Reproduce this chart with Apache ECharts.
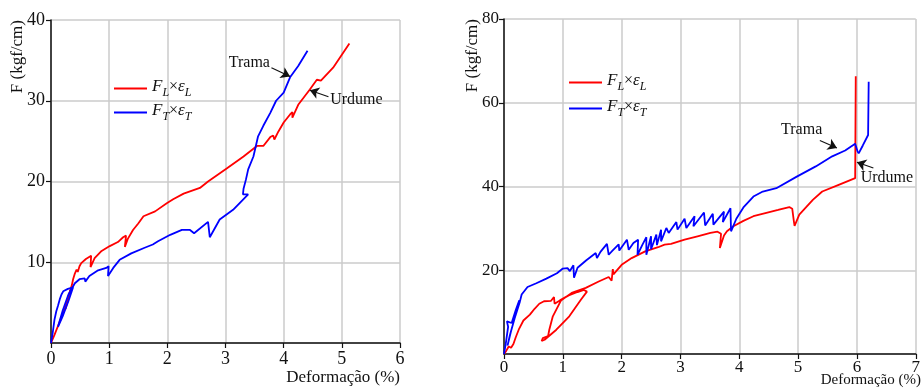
<!DOCTYPE html>
<html>
<head>
<meta charset="utf-8">
<script src="https://cdn.jsdelivr.net/npm/echarts@6/dist/echarts.min.js"></script>
<style>
html,body{margin:0;padding:0;background:#fff;}
#c{width:923px;height:388px;}
</style>
</head>
<body>
<div id="c"></div>
<script>
// ---- Left chart data: [deformation %, F kgf/cm]
const leftFL = [[0,0],[0.06,1.0],[0.12,2.1],[0.18,3.2],[0.23,4.1],[0.29,5.4],[0.33,6.5],[0.3,5.6],[0.25,4.2],[0.3,5.8],[0.36,7.2],[0.38,7.9],[0.41,8.6],[0.44,9.1],[0.46,8.8],[0.49,9.5],[0.52,9.9],[0.6,10.4],[0.69,10.8],[0.68,9.4],[0.75,10.5],[0.87,11.4],[1.01,12.0],[1.15,12.5],[1.24,13.1],[1.29,13.3],[1.27,11.9],[1.32,12.9],[1.41,14.0],[1.5,14.8],[1.59,15.7],[1.79,16.3],[1.99,17.3],[2.1,17.8],[2.28,18.5],[2.56,19.2],[2.7,20.0],[3.02,21.6],[3.31,23.1],[3.54,24.4],[3.65,24.4],[3.77,25.5],[3.82,25.7],[3.84,25.2],[3.91,26.2],[4.0,27.3],[4.11,28.3],[4.15,28.6],[4.15,27.9],[4.25,29.5],[4.45,31.4],[4.57,32.6],[4.64,32.5],[4.85,34.1],[5.13,37.1]];
const leftFT = [[0,0],[0.03,1.3],[0.06,2.9],[0.09,3.9],[0.12,4.6],[0.15,5.4],[0.18,6.0],[0.21,6.4],[0.29,6.7],[0.38,6.9],[0.3,5.2],[0.2,3.3],[0.12,2.0],[0.2,4.0],[0.3,6.0],[0.41,7.4],[0.49,7.9],[0.58,8.0],[0.59,7.6],[0.66,8.3],[0.81,9.0],[0.95,9.3],[0.99,9.5],[0.98,8.3],[1.07,9.3],[1.18,10.3],[1.38,11.1],[1.61,11.8],[1.75,12.2],[1.84,12.6],[2.05,13.4],[2.25,14.0],[2.39,14.0],[2.46,13.6],[2.7,15.0],[2.73,13.1],[2.9,15.3],[3.13,16.5],[3.39,18.4],[3.3,18.4],[3.31,19.1],[3.35,20.2],[3.39,21.5],[3.48,23.1],[3.56,25.6],[3.65,26.9],[3.77,28.5],[3.87,30.0],[4.0,31.0],[4.11,32.9],[4.25,34.3],[4.41,36.2]];
// ---- Right chart data
const rightFL = [[0,0],[0.04,0.8],[0.08,1.8],[0.12,1.5],[0.16,2.4],[0.2,4.0],[0.25,5.8],[0.33,8.0],[0.44,9.4],[0.52,10.8],[0.6,12.0],[0.68,12.6],[0.8,12.7],[0.85,13.6],[0.86,12.0],[0.95,12.8],[1.1,14.0],[1.25,14.8],[1.36,15.3],[1.41,14.9],[1.31,13.0],[1.11,9.0],[0.89,5.8],[0.69,3.4],[0.64,3.1],[0.66,3.8],[0.75,4.3],[0.77,5.8],[0.83,9.0],[0.97,12.8],[1.15,14.6],[1.39,15.8],[1.61,17.3],[1.78,18.4],[1.83,17.5],[1.85,20.3],[1.86,19.0],[2.0,21.3],[2.17,22.9],[2.4,24.5],[2.62,25.5],[2.73,26.1],[2.84,26.3],[3.07,27.3],[3.29,28.1],[3.51,28.9],[3.63,29.2],[3.69,28.7],[3.67,25.3],[3.74,28.3],[3.79,29.3],[3.9,30.5],[4.07,31.8],[4.24,32.9],[4.46,33.7],[4.66,34.4],[4.85,35.1],[4.9,34.7],[4.93,31.5],[4.94,30.6],[5.02,33.3],[5.25,36.8],[5.41,38.8],[5.69,40.4],[5.97,42.0],[5.98,66.3]];
const rightFT = [[0,0],[0.03,2.5],[0.07,6.5],[0.05,7.8],[0.13,7.4],[0.2,10.5],[0.26,12.8],[0.2,9.5],[0.12,5.5],[0.06,2.0],[0.1,4.5],[0.18,8.5],[0.27,12.5],[0.3,14.2],[0.4,16.0],[0.55,16.9],[0.72,18.0],[0.9,19.3],[1.0,20.4],[1.08,20.5],[1.12,19.8],[1.18,21.2],[1.19,18.2],[1.25,20.6],[1.4,22.4],[1.56,24.1],[1.58,22.9],[1.64,24.4],[1.75,26.3],[1.78,23.7],[1.84,24.6],[1.95,26.2],[1.96,24.7],[2.09,27.3],[2.12,24.9],[2.2,26.5],[2.28,27.3],[2.27,23.7],[2.35,26.0],[2.42,27.9],[2.42,23.7],[2.5,28.1],[2.5,25.0],[2.59,28.5],[2.6,26.0],[2.67,29.7],[2.67,26.9],[2.76,30.1],[2.8,28.9],[2.93,31.5],[2.95,29.7],[3.07,32.3],[3.1,30.1],[3.24,32.9],[3.22,30.5],[3.4,33.8],[3.42,30.7],[3.55,33.5],[3.56,30.9],[3.74,34.0],[3.72,31.5],[3.85,34.8],[3.86,29.3],[3.95,32.3],[4.07,35.0],[4.24,37.6],[4.4,38.8],[4.63,39.6],[4.97,42.3],[5.3,44.8],[5.58,47.2],[5.8,48.6],[5.97,50.2],[6.01,48.4],[6.03,47.9],[6.1,49.8],[6.19,52.3],[6.2,65.0]];
// ---- Axis ranges / ticks
const leftX = {min:0, max:6, interval:1};
const leftY = {min:0, max:40, interval:10};
const rightX = {min:0, max:7, interval:1};
const rightY = {min:0, max:80, interval:20};
// ---- Annotations (text anchor and arrow in data units)
const leftNotes = [
  {text:'Trama', at:[3.41,34.7], from:[3.79,34.1], to:[4.11,33.0]},
  {text:'Urdume', at:[5.25,30.1], from:[4.77,30.5], to:[4.45,31.3]}
];
const rightNotes = [
  {text:'Trama', at:[5.06,53.5], from:[5.37,51.0], to:[5.66,49.2]},
  {text:'Urdume', at:[6.51,42.1], from:[6.28,44.4], to:[6.0,45.8]}
];
const xName = 'Deformação (%)';
const yName = 'F (kgf/cm)';

const FONT = '"Liberation Serif", "Times New Roman", serif';
const INK = '#111';
const RED = '#ff0000', BLUE = '#0000ff';

function xAxisCfg(g, r, labelSize, margin){
  return {
    type:'value', gridIndex:g, min:r.min, max:r.max, interval:r.interval,
    axisLine:{show:true, onZero:false, lineStyle:{color:INK, width:1.5}},
    axisTick:{show:true, inside:false, length:5, lineStyle:{color:INK, width:1.2}},
    axisLabel:{color:INK, fontFamily:FONT, fontSize:labelSize, margin:margin},
    splitLine:{show:true, lineStyle:{color:'#cbcbcb', width:1.5}}
  };
}
function yAxisCfg(g, r, labelSize, margin){
  return {
    type:'value', gridIndex:g, min:r.min, max:r.max, interval:r.interval,
    axisLine:{show:true, onZero:false, lineStyle:{color:INK, width:1.5}},
    axisTick:{show:true, inside:false, length:5, lineStyle:{color:INK, width:1.2}},
    axisLabel:{color:INK, fontFamily:FONT, fontSize:labelSize, margin:margin, showMinLabel:false},
    splitLine:{show:true, lineStyle:{color:'#cbcbcb', width:1.5}}
  };
}
const rich = {
  i:{fontFamily:FONT, fontStyle:'italic', fontSize:17, color:INK, padding:[0,0,4,0], verticalAlign:'bottom'},
  n:{fontFamily:FONT, fontSize:16, color:INK, padding:[0,0,4,0], verticalAlign:'bottom'},
  s:{fontFamily:FONT, fontStyle:'italic', fontSize:12, color:INK, verticalAlign:'bottom'}
};
function legendText(name){
  return name.indexOf('FL') === 0 ? '{i|F}{s|L}{n|×}{i|ε}{s|L}' : '{i|F}{s|T}{n|×}{i|ε}{s|T}';
}
function arrows(notes){
  return {
    silent:true, symbol:['none','arrow'], symbolSize:9,
    itemStyle:{color:INK},
    lineStyle:{color:INK, width:1.1, type:'solid'}, label:{show:false},
    emphasis:{disabled:true},
    data: notes.map(n => [{coord:n.from},{coord:n.to}])
  };
}
function line(name, data, color, g, notes){
  return {
    name:name, type:'line', xAxisIndex:g, yAxisIndex:g, data:data,
    showSymbol:false, symbol:'none', smooth:false, color:color,
    lineStyle:{color:color, width:1.8}, z:3,
    markLine: notes ? arrows(notes) : undefined
  };
}

const chart = echarts.init(document.getElementById('c'), null, {renderer:'canvas'});
const option = {
  animation:false,
  backgroundColor:'#fff',
  grid:[
    {left:51, top:20, width:349, height:323},
    {left:504, top:19, width:418, height:335}
  ],
  xAxis:[xAxisCfg(0, leftX, 18, 7), xAxisCfg(1, rightX, 17, 5)],
  yAxis:[yAxisCfg(0, leftY, 18, 6), yAxisCfg(1, rightY, 17, 5)],
  legend:[
    {data:['FL_a','FT_a'], orient:'vertical', left:109, top:73, itemWidth:33, itemHeight:2, icon:'rect', itemGap:3, formatter:legendText, textStyle:{rich:rich}, selectedMode:false},
    {data:['FL_b','FT_b'], orient:'vertical', left:564, top:67, itemWidth:33, itemHeight:2, icon:'rect', itemGap:5, formatter:legendText, textStyle:{rich:rich}, selectedMode:false}
  ],
  series:[
    line('FL_a', leftFL, RED, 0, [leftNotes[1]]),
    line('FT_a', leftFT, BLUE, 0, [leftNotes[0]]),
    line('FL_b', rightFL, RED, 1, [rightNotes[1]]),
    line('FT_b', rightFT, BLUE, 1, [rightNotes[0]])
  ]
};
chart.setOption(option);

function txt(x, y, text, size, align, vAlign, rot){
  return {type:'text', x:x, y:y, rotation:rot||0, silent:true, z:10,
    style:{text:text, font: size + 'px ' + FONT, fill:INK,
      align:align, verticalAlign:vAlign, textAlign:align, textVerticalAlign:vAlign}};
}
const graphics = [];
graphics.push(txt(18, 20, yName, 17, 'right', 'middle', Math.PI/2));
graphics.push(txt(473, 19, yName, 17, 'right', 'middle', Math.PI/2));
graphics.push(txt(400, 378, xName, 17, 'right', 'middle'));
graphics.push(txt(921, 380, xName, 15, 'right', 'middle'));
leftNotes.forEach(n => { const p = chart.convertToPixel({gridIndex:0}, n.at); graphics.push(txt(p[0], p[1], n.text, 16, 'center', 'middle')); });
rightNotes.forEach(n => { const p = chart.convertToPixel({gridIndex:1}, n.at); graphics.push(txt(p[0], p[1], n.text, 16, 'center', 'middle')); });
chart.setOption({graphic: graphics});
</script>
</body>
</html>
